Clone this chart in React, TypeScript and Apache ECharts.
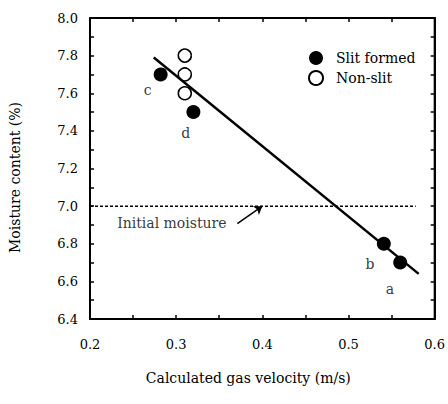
import React, { useEffect, useRef } from "react";
import * as echarts from "echarts";

const slitFormed: [number, number][] = [
  [0.282, 7.7],
  [0.32, 7.5],
  [0.541, 6.8],
  [0.56, 6.7],
];
const nonSlit: [number, number][] = [
  [0.31, 7.8],
  [0.31, 7.7],
  [0.31, 7.6],
];
const fitLine: [number, number][] = [
  [0.274, 7.79],
  [0.5815, 6.64],
];
const initialMoisture: [number, number][] = [
  [0.2, 7.0],
  [0.578, 7.0],
];
const pointLabels: { name: string; value: [number, number] }[] = [
  { name: "c", value: [0.267, 7.616] },
  { name: "d", value: [0.311, 7.387] },
  { name: "b", value: [0.525, 6.693] },
  { name: "a", value: [0.548, 6.56] },
];
const noteText = { name: "Initial moisture", value: [0.295, 6.912] as [number, number] };
const arrowFrom: [number, number] = [0.371, 6.907];
const arrowTo: [number, number] = [0.4, 7.0];
const xRange: [number, number] = [0.2, 0.6];
const yRange: [number, number] = [6.4, 8.0];

const FONT = "DejaVu Serif";

const xLabel = (v: number) => (Math.abs(v * 10 - Math.round(v * 10)) < 1e-6 ? v.toFixed(1) : "");
const yLabel = (v: number) => (Math.round(v * 10) % 2 === 0 ? v.toFixed(1) : "");

export default function App() {
  const ref = useRef<HTMLDivElement>(null);
  useEffect(() => {
    const chart = echarts.init(ref.current!, null, { renderer: "svg" });
    const axisLine = () => ({ show: true, onZero: false, lineStyle: { color: "#000", width: 2 } });
    const tick = () => ({ show: true, inside: true, length: 4, lineStyle: { color: "#000", width: 1.5 } });
    chart.setOption({
      animation: false,
      backgroundColor: "#fff",
      textStyle: { fontFamily: FONT },
      grid: { show: true, borderColor: "#000", borderWidth: 2, left: 89, right: 13, top: 18, bottom: 85 },
      legend: {
        orient: "vertical",
        left: 303,
        top: 46,
        itemWidth: 14,
        itemHeight: 14,
        itemGap: 5,
        icon: "circle",
        textStyle: { fontFamily: FONT, fontSize: 14, lineHeight: 14, color: "#000", padding: [0, 0, 0, 8] },
        data: ["Slit formed", "Non-slit"],
      },
      xAxis: [
        {
          type: "value",
          min: xRange[0],
          max: xRange[1],
          interval: 0.05,
          name: "Calculated gas velocity (m/s)",
          nameLocation: "middle",
          nameGap: 52,
          nameTextStyle: { fontFamily: FONT, fontSize: 14, color: "#000", padding: [0, 28, 0, 0] },
          axisLine: axisLine(),
          axisTick: tick(),
          splitLine: { show: false },
          axisLabel: { fontFamily: FONT, fontSize: 13, color: "#000", margin: 19, formatter: xLabel },
        },
        {
          type: "value",
          position: "top",
          min: xRange[0],
          max: xRange[1],
          interval: 0.05,
          axisLine: axisLine(),
          axisTick: tick(),
          splitLine: { show: false },
          axisLabel: { show: false },
        },
      ],
      yAxis: [
        {
          type: "value",
          min: yRange[0],
          max: yRange[1],
          interval: 0.1,
          name: "Moisture content (%)",
          nameLocation: "middle",
          nameGap: 68,
          nameTextStyle: { fontFamily: FONT, fontSize: 14, color: "#000", padding: [0, 18, 0, 0] },
          axisLine: axisLine(),
          axisTick: tick(),
          splitLine: { show: false },
          axisLabel: { fontFamily: FONT, fontSize: 13, color: "#000", margin: 12, formatter: yLabel },
        },
        {
          type: "value",
          position: "right",
          min: yRange[0],
          max: yRange[1],
          interval: 0.1,
          axisLine: axisLine(),
          axisTick: tick(),
          splitLine: { show: false },
          axisLabel: { show: false },
        },
      ],
      series: [
        {
          name: "initial",
          type: "line",
          data: initialMoisture,
          symbol: "none",
          lineStyle: { color: "#000", width: 1.5, type: [3, 2] },
          markLine: {
            silent: true,
            symbol: ["none", "arrow"],
            symbolSize: 8,
            label: { show: false },
            lineStyle: { color: "#000", width: 1.5, type: "solid" },
            data: [[{ coord: arrowFrom }, { coord: arrowTo }]],
          },
        },
        {
          name: "fit",
          type: "line",
          data: fitLine,
          symbol: "none",
          lineStyle: { color: "#000", width: 2.5 },
        },
        {
          name: "Slit formed",
          type: "scatter",
          data: slitFormed,
          symbol: "circle",
          symbolSize: 14,
          itemStyle: { color: "#000", opacity: 1 },
        },
        {
          name: "Non-slit",
          type: "scatter",
          data: nonSlit,
          symbol: "circle",
          symbolSize: 13,
          itemStyle: { color: "#fff", borderColor: "#000", borderWidth: 1.5, opacity: 1 },
        },
        {
          name: "labels",
          type: "scatter",
          data: [...pointLabels, noteText],
          symbolSize: 0,
          label: {
            show: true,
            position: "inside",
            formatter: (p: any) => p.name,
            fontFamily: FONT,
            fontSize: 14,
            color: "#000",
          },
        },
      ],
    });
    return () => chart.dispose();
  }, []);
  return <div ref={ref} style={{ position: "absolute", left: 0, top: 0, width: 448, height: 404 }} />;
}
